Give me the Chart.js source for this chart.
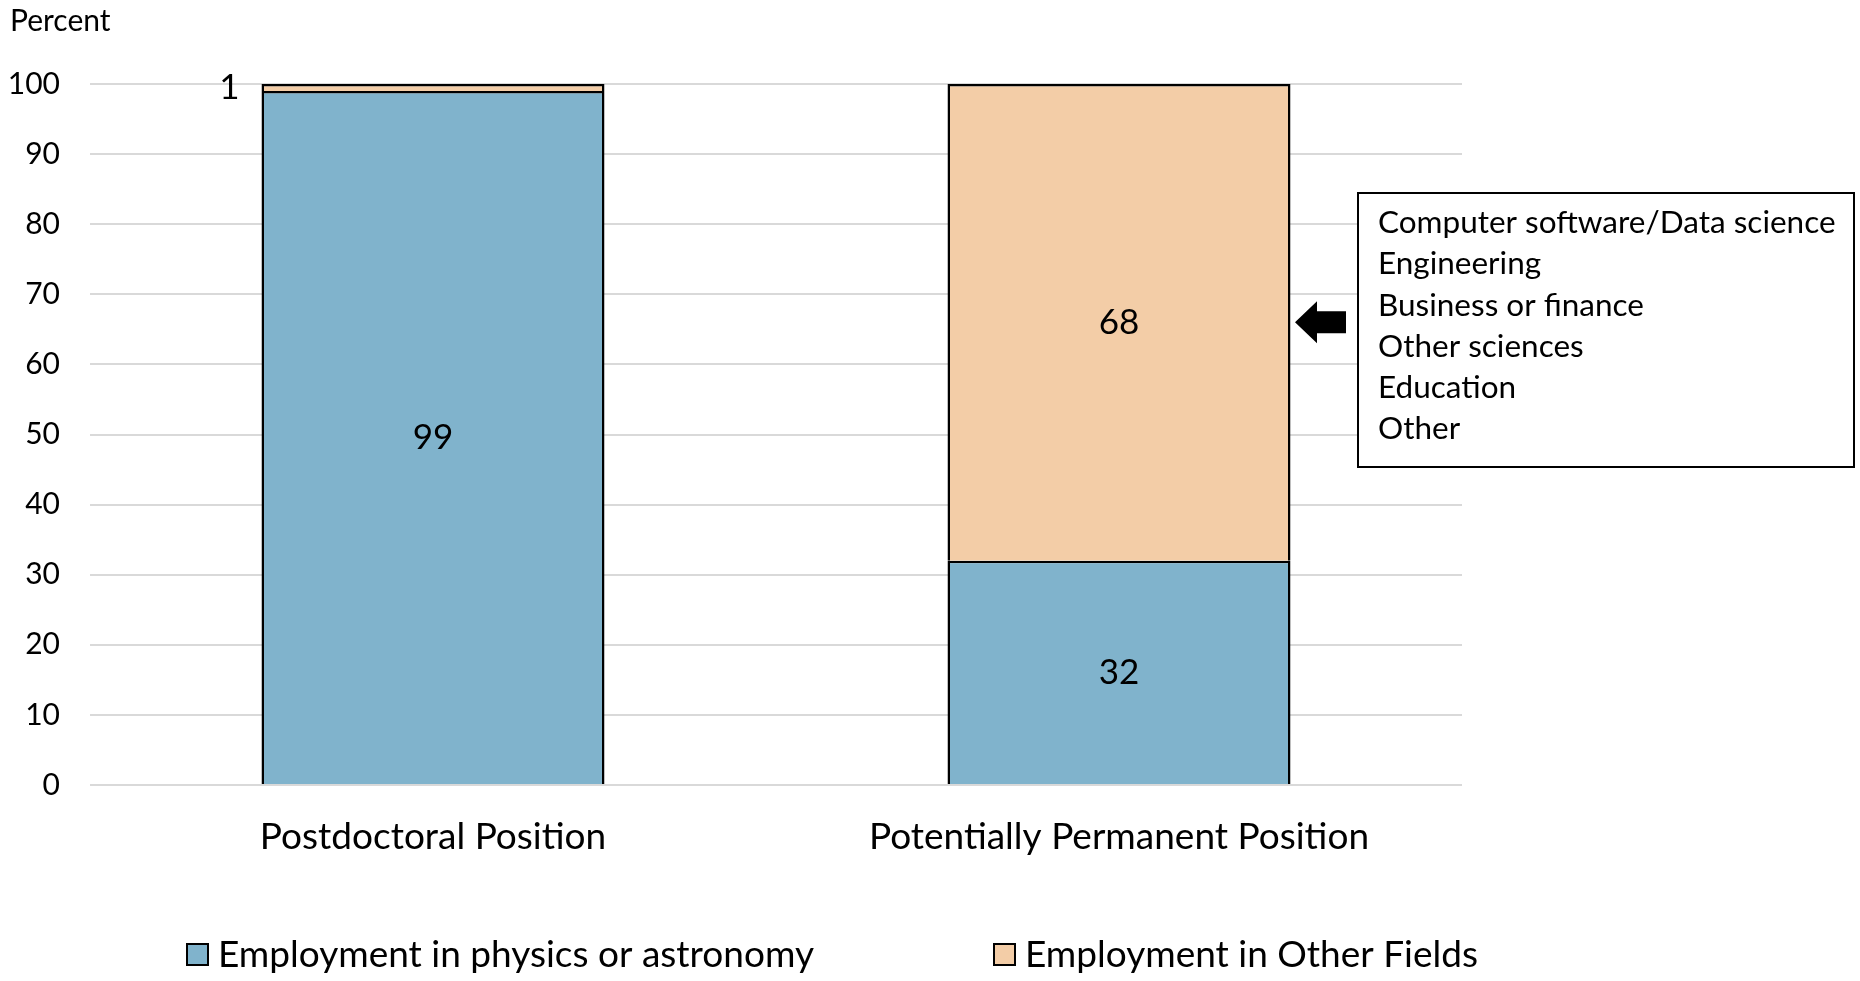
<!DOCTYPE html>
<html>
<head>
<meta charset="utf-8">
<title>Employment by type of position</title>
<script src="https://cdn.jsdelivr.net/npm/chart.js@4.4.1/dist/chart.umd.min.js"></script>
<style>
    html, body { margin: 0; padding: 0; background: #fff; }
    #chart-wrap { width: 1860px; height: 981px; }
</style>
</head>
<body>
<div id="chart-wrap"><canvas id="employment-chart" width="1860" height="981"></canvas></div>
<script>
// =============================
// DATA
// =============================
const categories = ['Postdoctoral Position', 'Potentially Permanent Position'];
const physicsAstronomy = [99, 32];
const otherFields = [1, 68];
const seriesNames = ['Employment in physics or astronomy', 'Employment in Other Fields'];
const yMin = 0;
const yMax = 100;
const yStep = 10;
const otherFieldsList = [
    'Computer software/Data science',
    'Engineering',
    'Business or finance',
    'Other sciences',
    'Education',
    'Other'
];
// value the call-out arrow points at (middle of the "other fields" segment)
const arrowValue = physicsAstronomy[1] + otherFields[1] / 2;

const FONT = 'Lato, "Open Sans", sans-serif';
const blueFill = '#80b3cc';
const peachFill = '#f3cda7';
const gridColor = '#d9d9d9';

// =============================
// PLUGINS
// =============================
const segmentLabels = {
    id: 'segmentLabels',
    afterDatasetsDraw(chart) {
        const ctx = chart.ctx;
        ctx.save();
        ctx.font = `35px ${FONT}`;
        ctx.fillStyle = '#000';
        ctx.textBaseline = 'middle';
        chart.data.datasets.forEach((ds, i) => {
            const meta = chart.getDatasetMeta(i);
            meta.data.forEach((bar, j) => {
                const v = ds.data[j];
                const midY = (bar.y + bar.base) / 2;
                if (Math.abs(bar.base - bar.y) < 30) {
                    // thin slice: label sits to the left of the bar
                    ctx.textAlign = 'right';
                    ctx.fillText(String(v), bar.x - bar.width / 2 - 22, midY);
                } else {
                    ctx.textAlign = 'center';
                    ctx.fillText(String(v), bar.x, midY);
                }
            });
        });
        ctx.restore();
    }
};

const calloutAndLegend = {
    id: 'calloutAndLegend',
    afterDraw(chart) {
        const ctx = chart.ctx;
        const yScale = chart.scales.y;
        ctx.save();

        // call-out box listing the other fields
        const boxL = 1358, boxT = 193, boxR = 1854, boxB = 467;
        ctx.fillStyle = '#fff';
        ctx.fillRect(boxL, boxT, boxR - boxL, boxB - boxT);
        ctx.strokeStyle = '#000';
        ctx.lineWidth = 2;
        ctx.strokeRect(boxL, boxT, boxR - boxL, boxB - boxT);
        ctx.fillStyle = '#000';
        ctx.font = `31.5px ${FONT}`;
        ctx.textAlign = 'left';
        ctx.textBaseline = 'middle';
        otherFieldsList.forEach((txt, k) => {
            ctx.fillText(txt, boxL + 20, boxT + 30 + k * 41.2);
        });

        // arrow pointing at the segment
        const ay = yScale.getPixelForValue(arrowValue);
        ctx.beginPath();
        ctx.moveTo(1295, ay);
        ctx.lineTo(1317, ay - 21);
        ctx.lineTo(1317, ay - 11);
        ctx.lineTo(1346, ay - 11);
        ctx.lineTo(1346, ay + 11);
        ctx.lineTo(1317, ay + 11);
        ctx.lineTo(1317, ay + 21);
        ctx.closePath();
        ctx.fill();

        // legend
        const legendX = [187, 994];
        const legendY = 955;
        ctx.font = `37px ${FONT}`;
        chart.data.datasets.forEach((ds, i) => {
            const x = legendX[i];
            ctx.fillStyle = ds.backgroundColor;
            ctx.fillRect(x, legendY - 11, 21, 21);
            ctx.strokeStyle = '#000';
            ctx.lineWidth = 2;
            ctx.strokeRect(x, legendY - 11, 21, 21);
            ctx.fillStyle = '#000';
            ctx.fillText(ds.label, x + 31, legendY);
        });

        ctx.restore();
    }
};

// =============================
// CHART
// =============================
function renderEmploymentChart() {
    const ctx = document.getElementById('employment-chart').getContext('2d');

    new Chart(ctx, {
        type: 'bar',
        data: {
            labels: categories,
            datasets: [
                {
                    label: seriesNames[0],
                    data: physicsAstronomy,
                    backgroundColor: blueFill,
                    borderColor: '#000',
                    borderWidth: 2.5
                },
                {
                    label: seriesNames[1],
                    data: otherFields,
                    backgroundColor: peachFill,
                    borderColor: '#000',
                    borderWidth: 2.5
                }
            ]
        },
        options: {
            responsive: false,
            animation: false,
            barPercentage: 0.5,
            categoryPercentage: 1,
            layout: { padding: { left: 10, right: 398, top: 0, bottom: 96 } },
            scales: {
                x: {
                    stacked: true,
                    border: { display: false },
                    grid: { display: false },
                    ticks: { color: '#000', font: { family: FONT, size: 37 }, padding: 22 },
                    afterFit(axis) { axis.height = 100; }
                },
                y: {
                    stacked: true,
                    min: yMin,
                    max: yMax,
                    border: { display: false },
                    grid: { color: gridColor, lineWidth: 2, drawTicks: false },
                    ticks: { stepSize: yStep, color: '#000', font: { family: FONT, size: 30 }, padding: 30 },
                    afterFit(axis) { axis.width = 80; }
                }
            },
            plugins: {
                legend: { display: false },
                tooltip: { enabled: false },
                title: {
                    display: true,
                    text: 'Percent',
                    align: 'start',
                    color: '#000',
                    font: { family: FONT, size: 30, weight: 'normal' },
                    padding: { top: 3, bottom: 45 }
                }
            }
        },
        plugins: [segmentLabels, calloutAndLegend]
    });
}

document.addEventListener('DOMContentLoaded', () => {
    renderEmploymentChart();
});
</script>
</body>
</html>
